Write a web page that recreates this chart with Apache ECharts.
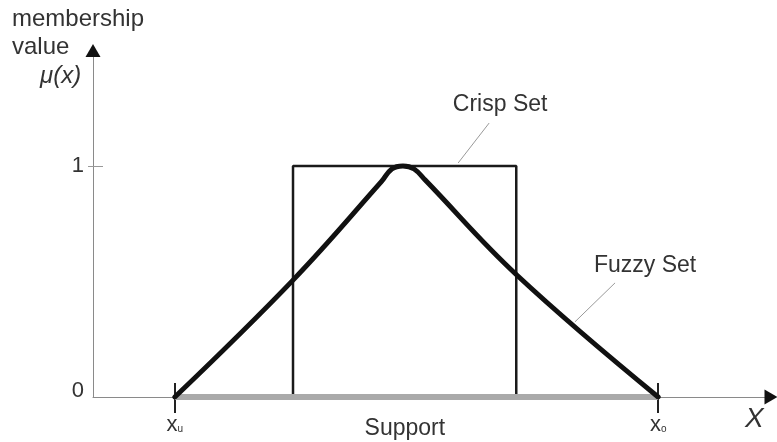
<!DOCTYPE html>
<html>
<head>
<meta charset="utf-8">
<script src="https://cdn.jsdelivr.net/npm/echarts@6/dist/echarts.min.js"></script>
<style>
  html, body { margin: 0; padding: 0; background: #fff; }
  #main { width: 777px; height: 442px; }
</style>
</head>
<body>
<div id="main"></div>
<script>
// x in arbitrary units (axis 0..14), y = membership value
var fuzzyX = [1.69, 4.13, 5.95, 6.17, 6.40, 6.63, 6.86, 8.75, 11.67];
var fuzzyY = [0, 0.506, 0.931, 0.987, 1.0, 0.987, 0.939, 0.528, 0];
var crispX = [4.13, 4.13, 8.74, 8.74];
var crispY = [0, 1, 1, 0];
var supportX = [1.69, 11.67];
var xTicks = [1.69, 11.67];
var xLabelValues = [1.69, 6.44, 11.67];
var xLabelText = ['{x|x}{s|u}', '{t|Support}', '{x|x}{s|o}'];
var yLabelValues = [0, 1];
var yTicks = [1];
var crispLeaderX = [7.54, 8.18];
var crispLeaderY = [1.013, 1.186];
var fuzzyLeaderX = [9.95, 10.78];
var fuzzyLeaderY = [0.325, 0.494];

var X_MAX = 14, Y_MAX = 1.5;

function pairs(xs, ys) {
  return xs.map(function (x, i) { return [x, ys[i]]; });
}

var FONT = '"Liberation Sans", Arial, sans-serif';
var TXT = '#333';

var chart = echarts.init(document.getElementById('main'));

// thin grey pointer line, text sits on its upper end
function leader(xs, ys, text, offX, dist) {
  var d = pairs(xs, ys);
  d[d.length - 1] = {
    value: d[d.length - 1],
    symbol: 'circle', symbolSize: 1,
    itemStyle: { color: 'rgba(0,0,0,0)' },
    label: {
      show: true, position: 'top', distance: dist, offset: [offX, 0],
      formatter: text, fontFamily: FONT, fontSize: 23, color: TXT
    }
  };
  return {
    type: 'line', data: d, symbol: 'none', showSymbol: true, silent: true, z: 3,
    lineStyle: { color: '#999', width: 1 }
  };
}

chart.setOption({
  animation: false,
  grid: { left: 93, right: 6, top: 50.5, bottom: 45, containLabel: false },
  xAxis: [{
    type: 'value', min: 0, max: X_MAX, position: 'bottom',
    splitLine: { show: false },
    axisLine: { show: true, lineStyle: { color: '#8a8a8a', width: 1 } },
    axisTick: { show: true, customValues: xTicks, length: 16, lineStyle: { color: '#222', width: 2 } },
    axisLabel: {
      customValues: xLabelValues, margin: 17,
      formatter: function (v) {
        var i = xLabelValues.indexOf(v);
        return i >= 0 ? xLabelText[i] : '';
      },
      rich: {
        x: { fontFamily: FONT, fontSize: 22, color: TXT },
        s: { fontFamily: FONT, fontSize: 10, color: TXT, padding: [8, 0, 0, 0] },
        t: { fontFamily: FONT, fontSize: 23, color: TXT, padding: [3, 0, 0, 0] }
      }
    }
  }, {
    type: 'value', min: 0, max: X_MAX, position: 'bottom',
    splitLine: { show: false },
    axisLine: { show: false },
    axisLabel: { show: false },
    axisTick: { show: true, inside: true, customValues: xTicks, length: 14, lineStyle: { color: '#222', width: 2 } }
  }],
  yAxis: [{
    type: 'value', min: 0, max: Y_MAX, position: 'left',
    splitLine: { show: false },
    axisLine: { show: true, lineStyle: { color: '#8a8a8a', width: 1 } },
    axisTick: { show: true, customValues: yTicks, length: 5, lineStyle: { color: '#999', width: 1 } },
    axisLabel: {
      customValues: yLabelValues, margin: 9,
      formatter: function (v) { return v === 0 ? '{z|0}' : '{o|' + v + '}'; },
      rich: {
        z: { fontFamily: FONT, fontSize: 22, color: TXT, padding: [0, 0, 12, 0] },
        o: { fontFamily: FONT, fontSize: 22, color: TXT }
      }
    }
  }, {
    type: 'value', min: 0, max: Y_MAX, position: 'left',
    splitLine: { show: false },
    axisLine: { show: false },
    axisLabel: { show: false },
    axisTick: { show: true, inside: true, customValues: yTicks, length: 10, lineStyle: { color: '#999', width: 1 } }
  }],
  graphic: [
    { type: 'text', left: 12, top: 5, style: { text: 'membership\nvalue', font: '24px ' + FONT, fill: TXT, lineHeight: 28 } },
    { type: 'text', left: 40, top: 64, style: { text: 'μ(x)', font: 'italic 24px ' + FONT, fill: TXT } },
    { type: 'text', left: 745, top: 405, style: { text: 'X', font: 'italic 28px ' + FONT, fill: TXT } }
  ],
  series: [
    {
      name: 'Crisp Set', type: 'line', data: pairs(crispX, crispY), symbol: 'none', z: 2,
      lineStyle: { color: '#1a1a1a', width: 2.5 }
    },
    {
      name: 'Fuzzy Set', type: 'line', data: pairs(fuzzyX, fuzzyY), symbol: 'none', smooth: 0.4, z: 4,
      lineStyle: { color: '#111', width: 5, cap: 'round', join: 'round' }
    },
    {
      name: 'Support', type: 'line', data: pairs(supportX, [0, 0]), symbol: 'none', z: 3,
      lineStyle: { color: '#aaa', width: 6 },
      markPoint: {
        silent: true,
        label: { show: false },
        itemStyle: { color: '#111' },
        data: [
          { coord: [X_MAX, 0], symbol: 'triangle', symbolSize: [15, 13], symbolRotate: -90 },
          { coord: [0, Y_MAX], symbol: 'triangle', symbolSize: [15, 13], symbolRotate: 0 }
        ]
      }
    },
    leader(crispLeaderX, crispLeaderY, 'Crisp Set', 11, 6),
    leader(fuzzyLeaderX, fuzzyLeaderY, 'Fuzzy Set', 30, 5)
  ]
});
</script>
</body>
</html>
